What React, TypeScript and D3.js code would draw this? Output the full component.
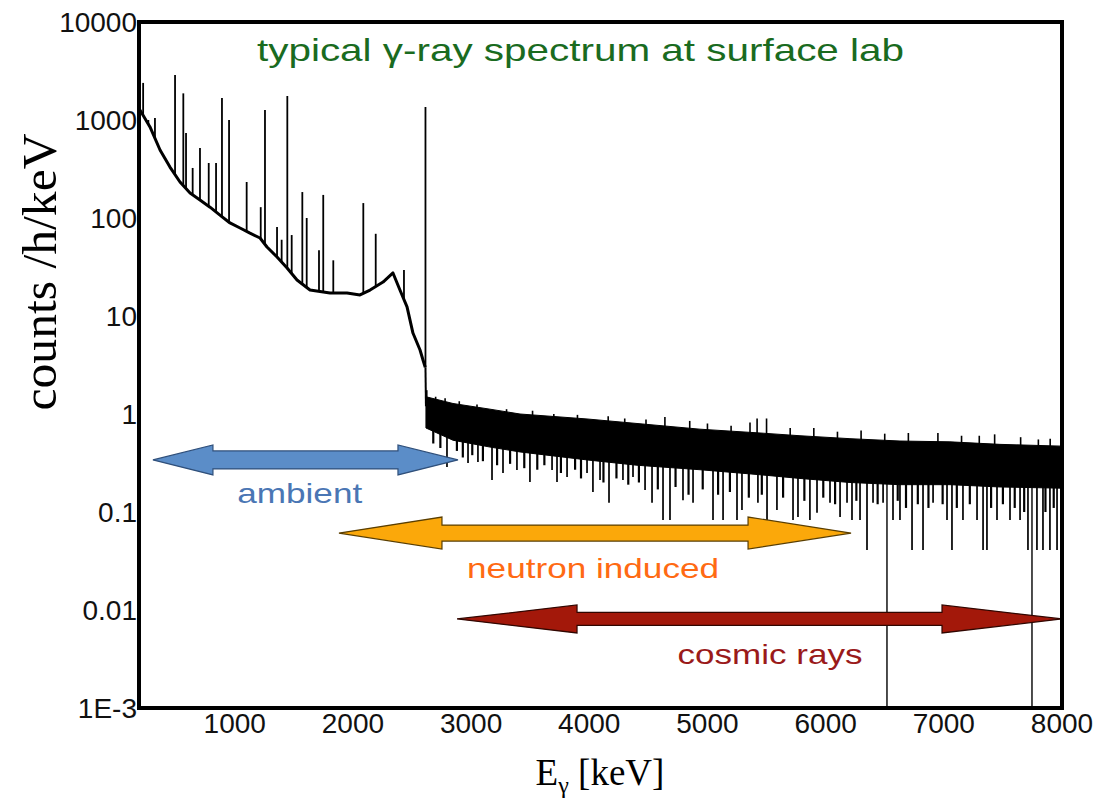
import { scaleLinear, scaleLog, line, area } from "d3";

const width = 1099;
const height = 806;
const plot = { left: 139, right: 1062, top: 22, bottom: 708 };

// axis ticks
const xTickValues = [1000, 2000, 3000, 4000, 5000, 6000, 7000, 8000];
const yTickValues = [10000, 1000, 100, 10, 1, 0.1, 0.01, 0.001];
const yTickLabels = ["10000", "1000", "100", "10", "1", "0.1", "0.01", "1E-3"];

// continuum below the 2614 keV line (keV, counts/h/keV)
const continuumE = [198, 283, 368, 452, 537, 622, 706, 791, 875, 960, 1045, 1129, 1214, 1273, 1358, 1443, 1527, 1637, 1806, 1950, 2060, 2145, 2255, 2339, 2398, 2458, 2508, 2568, 2593, 2612];
const continuumC = [1265, 849, 494, 331, 233, 180, 153, 129, 107, 89, 79, 70, 62.5, 50.6, 40, 30.9, 23.3, 18.4, 17.2, 17.2, 16.4, 18.4, 22.2, 27.5, 18.4, 12.4, 6.7, 4.5, 3.56, 3.0];

// gamma lines (keV, peak counts)
const peakE = [225, 269, 325, 495, 565, 588, 644, 706, 780, 842, 892, 952, 1101, 1220, 1256, 1358, 1397, 1445, 1482, 1572, 1609, 1713, 1749, 1834, 2088, 2193, 2432, 2614];
const peakC = [2390, 1000, 1050, 2880, 1870, 737, 324, 518, 364, 364, 1675, 1000, 233, 129, 1265, 81, 60, 1757, 67, 184, 100, 47, 172, 37, 142, 69, 29.4, 1360];

// noisy band above 2614 keV: upper and lower edge
const bandE = [2618, 2847, 3160, 3414, 3981, 4404, 4937, 5445, 5783, 6206, 6629, 7052, 7475, 8000];
const bandTop = [1.5, 1.28, 1.12, 1.0, 0.89, 0.8, 0.7, 0.64, 0.6, 0.56, 0.53, 0.52, 0.49, 0.47];
const bandBottom = [0.72, 0.54, 0.46, 0.41, 0.34, 0.3, 0.27, 0.24, 0.22, 0.2, 0.19, 0.19, 0.18, 0.175];

// deep downward fluctuations
const dipE = [2796, 2974, 3058, 3177, 3270, 3388, 3498, 3685, 3727, 3812, 3981, 4031, 4091, 4167, 4285, 4370, 4472, 4531, 4624, 4683, 4793, 4878, 5047, 5132, 5250, 5292, 5427, 5504, 5588, 5724, 5766, 5867, 5927, 6037, 6122, 6181, 6223, 6291, 6350, 6401, 6486, 6519, 6570, 6629, 6731, 6824, 6909, 7027, 7069, 7162, 7281, 7332, 7365, 7450, 7560, 7645, 7712, 7746, 7788, 7839, 7898, 7958];
const dipC = [0.288, 0.316, 0.324, 0.212, 0.25, 0.268, 0.202, 0.268, 0.202, 0.228, 0.25, 0.16, 0.212, 0.124, 0.212, 0.228, 0.168, 0.124, 0.083, 0.083, 0.132, 0.124, 0.083, 0.083, 0.083, 0.105, 0.124, 0.083, 0.105, 0.083, 0.089, 0.083, 0.098, 0.124, 0.089, 0.124, 0.083, 0.083, 0.041, 0.124, 0.124, 0.001, 0.083, 0.083, 0.041, 0.041, 0.124, 0.083, 0.041, 0.083, 0.083, 0.041, 0.041, 0.083, 0.083, 0.083, 0.041, 0.001, 0.041, 0.041, 0.041, 0.041];

// shallow downward fluctuations (ragged lower edge)
const shallowE = [2680, 2740, 2880, 2930, 3010, 3100, 3220, 3330, 3450, 3560, 3620, 3760, 3880, 3930, 4120, 4230, 4330, 4420, 4580, 4730, 4840, 4960, 5090, 5190, 5350, 5460, 5640, 5820, 5980, 6080, 6260, 6440, 6610, 6680, 6780, 6870, 6990, 7110, 7220, 7400, 7500, 7600, 7680, 7860, 7930];
const shallowC = [0.5, 0.45, 0.42, 0.36, 0.38, 0.33, 0.3, 0.31, 0.28, 0.27, 0.3, 0.25, 0.27, 0.22, 0.2, 0.22, 0.19, 0.2, 0.17, 0.18, 0.15, 0.17, 0.15, 0.16, 0.14, 0.15, 0.14, 0.13, 0.14, 0.12, 0.13, 0.12, 0.13, 0.11, 0.12, 0.11, 0.12, 0.11, 0.12, 0.11, 0.12, 0.11, 0.1, 0.1, 0.11];

// upward fluctuations
const spikeE = [2625, 2700, 2780, 2900, 3050, 3300, 3520, 3700, 3900, 4160, 4300, 4480, 4640, 4850, 5000, 5200, 5360, 5420, 5500, 5700, 5900, 6100, 6300, 6500, 6700, 6950, 7150, 7300, 7430, 7650, 7800, 7900];
const spikeC = [1.75, 1.5, 1.45, 1.35, 1.25, 1.12, 1.08, 1.0, 0.98, 0.95, 0.9, 0.88, 0.93, 0.85, 0.8, 0.76, 0.82, 0.9, 0.9, 0.72, 0.72, 0.66, 0.68, 0.63, 0.64, 0.64, 0.6, 0.6, 0.62, 0.58, 0.55, 0.56];

// annotation ranges (keV) and level (counts)
const ambientRange = [308, 2889];
const ambientLevel = 0.34;
const neutronRange = [1882, 6215];
const neutronLevel = 0.061;
const cosmicRange = [2881, 8000];
const cosmicLevel = 0.0081;

const sans = "'Liberation Sans', Arial, sans-serif";
const serif = "'Liberation Serif', 'Times New Roman', serif";

const x = scaleLinear().domain([190, 8000]).range([plot.left, plot.right]);
const y = scaleLog().domain([0.001, 10000]).range([plot.bottom, plot.top]);

const interpY = (es: number[], cs: number[], e: number) => {
  for (let i = 0; i < es.length - 1; i++) {
    if (e >= es[i] && e <= es[i + 1]) {
      const t = (e - es[i]) / (es[i + 1] - es[i]);
      return y(cs[i]) + t * (y(cs[i + 1]) - y(cs[i]));
    }
  }
  return e < es[0] ? y(cs[0]) : y(cs[cs.length - 1]);
};

const arrowPath = (x1: number, x2: number, cy: number, head: number, hh: number, sh: number) =>
  `M${x1},${cy} L${x1 + head},${cy - hh} L${x1 + head},${cy - sh} L${x2 - head},${cy - sh} L${x2 - head},${cy - hh} L${x2},${cy} L${x2 - head},${cy + hh} L${x2 - head},${cy + sh} L${x1 + head},${cy + sh} L${x1 + head},${cy + hh} Z`;

const App = () => {
  const contPts = continuumE.map((e, i) => [e, continuumC[i]] as [number, number]);
  const contLine = line<[number, number]>()
    .x((d) => x(d[0]))
    .y((d) => y(d[1]))(contPts);

  const bandIdx = bandE.map((_, i) => i);
  const bandArea = area<number>()
    .x((i) => x(bandE[i]))
    .y0((i) => y(bandBottom[i]))
    .y1((i) => y(bandTop[i]))(bandIdx);

  const arrows = [
    { r: ambientRange, lv: ambientLevel, head: 60, hh: 15, sh: 9, fill: "#5b8dc8", stroke: "#2f4f7a" },
    { r: neutronRange, lv: neutronLevel, head: 103, hh: 16, sh: 8, fill: "#fba80a", stroke: "#5a3e00" },
    { r: cosmicRange, lv: cosmicLevel, head: 120, hh: 14, sh: 6.5, fill: "#a3180a", stroke: "#300600" },
  ];

  return (
    <svg width={width} height={height} style={{ position: "absolute", left: 0, top: 0, background: "#fff" }}>
      <defs>
        <clipPath id="plotClip">
          <rect x={plot.left} y={plot.top} width={plot.right - plot.left} height={plot.bottom - plot.top} />
        </clipPath>
      </defs>

      <g clipPath="url(#plotClip)">
        {/* spectrum below 2614 */}
        <path d={contLine ?? ""} fill="none" stroke="#000" strokeWidth={3} strokeLinejoin="round" />
        {peakE.map((e, i) => (
          <line key={"p" + i} x1={x(e)} x2={x(e)} y1={interpY(continuumE, continuumC, e)} y2={y(peakC[i])} stroke="#000" strokeWidth={1.8} />
        ))}
        <line x1={x(2614)} x2={x(2618)} y1={y(3.0)} y2={y(1.2)} stroke="#000" strokeWidth={2} />

        {/* noisy band */}
        <path d={bandArea ?? ""} fill="#000" stroke="#000" strokeWidth={1} />
        {shallowE.map((e, i) => (
          <line key={"h" + i} x1={x(e)} x2={x(e)} y1={interpY(bandE, bandBottom, e) - 4} y2={y(shallowC[i])} stroke="#000" strokeWidth={2.2} />
        ))}
        {dipE.map((e, i) => (
          <line key={"d" + i} x1={x(e)} x2={x(e)} y1={interpY(bandE, bandBottom, e) - 4} y2={y(dipC[i])} stroke="#000" strokeWidth={dipC[i] < 0.01 ? 1.4 : 1.7} />
        ))}
        {spikeE.map((e, i) => (
          <line key={"s" + i} x1={x(e)} x2={x(e)} y1={interpY(bandE, bandTop, e) + 4} y2={y(spikeC[i])} stroke="#000" strokeWidth={1.6} />
        ))}
      </g>

      {/* range arrows */}
      {arrows.map((a, i) => (
        <path key={"a" + i} d={arrowPath(x(a.r[0]), x(a.r[1]), y(a.lv), a.head, a.hh, a.sh)} fill={a.fill} stroke={a.stroke} strokeWidth={1.2} strokeLinejoin="miter" />
      ))}
      <text x={x(1550)} y={503} textAnchor="middle" fontFamily={sans} fontSize={28} fill="#4a76b4" textLength={125} lengthAdjust="spacingAndGlyphs">
        ambient
      </text>
      <text x={x(4032)} y={578} textAnchor="middle" fontFamily={sans} fontSize={28} fill="#ff6a13" textLength={252} lengthAdjust="spacingAndGlyphs">
        neutron induced
      </text>
      <text x={x(5530)} y={664} textAnchor="middle" fontFamily={sans} fontSize={28} fill="#9a1a1a" textLength={185} lengthAdjust="spacingAndGlyphs">
        cosmic rays
      </text>

      {/* title */}
      <text x={257} y={61} fontFamily={sans} fontSize={32} fill="#1a6b1f" textLength={647} lengthAdjust="spacingAndGlyphs">
        typical γ-ray spectrum at surface lab
      </text>

      {/* frame */}
      <rect x={plot.left} y={plot.top} width={plot.right - plot.left} height={plot.bottom - plot.top} fill="none" stroke="#000" strokeWidth={4} />

      {/* y ticks */}
      {yTickValues.map((v, i) => (
        <text key={"y" + i} x={137} y={y(v)} dy="0.36em" textAnchor="end" fontFamily={sans} fontSize={28} fill="#111">
          {yTickLabels[i]}
        </text>
      ))}
      {/* x ticks */}
      {xTickValues.map((v) => (
        <text key={"x" + v} x={x(v)} y={733} textAnchor="middle" fontFamily={sans} fontSize={28} fill="#111">
          {v}
        </text>
      ))}

      {/* axis titles */}
      <text transform="translate(56,272) rotate(-90)" textAnchor="middle" fontFamily={serif} fontSize={49} fill="#000" textLength={277} lengthAdjust="spacingAndGlyphs">
        counts /h/keV
      </text>
      <text x={600} y={785} textAnchor="middle" fontFamily={serif} fontSize={37} fill="#000">
        E<tspan fontSize={24} dy={8}>γ</tspan>
        <tspan dy={-8}> [keV]</tspan>
      </text>
    </svg>
  );
};

export default App;
